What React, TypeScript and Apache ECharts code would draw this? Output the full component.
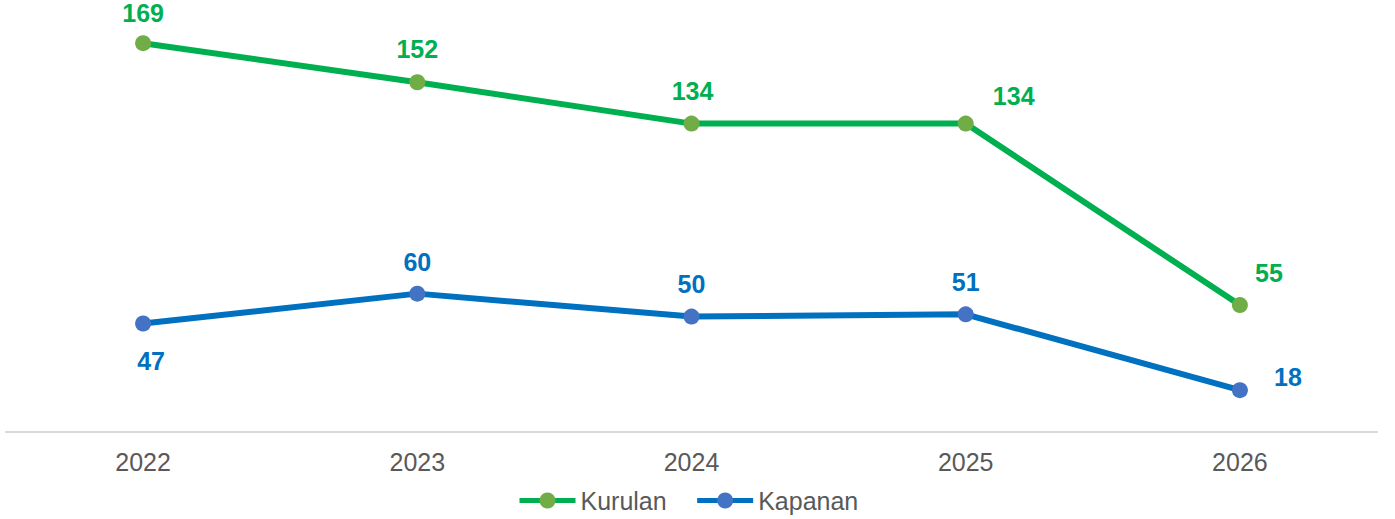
import React, { useEffect, useRef } from "react";
import * as echarts from "echarts";

const categories = ["2022", "2023", "2024", "2025", "2026"];
const kurulan = [169, 152, 134, 134, 55];
const kapanan = [47, 60, 50, 51, 18];
// label offsets (dx, dy) from the point centre
const kurulanOffsets = [[0, -30], [0, -33], [1, -33], [48, -28], [29, -32]];
const kapananOffsets = [[8, 37], [0, -32], [0, -33], [0, -32], [48, -13]];

const FONT = "'Liberation Sans', Arial, sans-serif";

export default function App() {
  const ref = useRef<HTMLDivElement>(null);
  useEffect(() => {
    if (!ref.current) return;
    const chart = echarts.init(ref.current, null, { renderer: "svg" });
    const mk = (vals: number[], offs: number[][]) =>
      vals.map((v, i) => ({
        value: v,
        label: { offset: offs[i] },
      }));
    chart.setOption({
      animation: false,
      textStyle: { fontFamily: FONT },
      grid: { left: 6, right: 18, top: 17.9, bottom: 87.5, containLabel: false },
      legend: {
        left: 512,
        top: 483,
        padding: 5,
        itemWidth: 56,
        itemHeight: 20,
        itemGap: 28,
        lineStyle: { width: 5 },
        textStyle: { fontSize: 25, color: "#595959", fontFamily: FONT },
        data: ["Kurulan", "Kapanan"],
      },
      xAxis: {
        type: "category",
        data: categories,
        boundaryGap: true,
        axisLine: { show: true, lineStyle: { color: "#D9D9D9", width: 2 } },
        axisTick: { show: false },
        axisLabel: { color: "#595959", fontSize: 25, margin: 18, fontFamily: FONT },
      },
      yAxis: {
        type: "value",
        min: 0,
        max: 180,
        show: false,
        splitLine: { show: false },
      },
      series: [
        {
          name: "Kurulan",
          type: "line",
          data: mk(kurulan, kurulanOffsets),
          symbol: "circle",
          symbolSize: 16,
          lineStyle: { color: "#00B050", width: 6 },
          itemStyle: { color: "#70AD47" },
          label: {
            show: true,
            position: "inside",
            color: "#00B050",
            fontWeight: "bold",
            fontSize: 25,
            fontFamily: FONT,
          },
        },
        {
          name: "Kapanan",
          type: "line",
          data: mk(kapanan, kapananOffsets),
          symbol: "circle",
          symbolSize: 16,
          lineStyle: { color: "#0070C0", width: 6 },
          itemStyle: { color: "#4472C4" },
          label: {
            show: true,
            position: "inside",
            color: "#0070C0",
            fontWeight: "bold",
            fontSize: 25,
            fontFamily: FONT,
          },
        },
      ],
    });
    return () => chart.dispose();
  }, []);
  return (
    <div
      ref={ref}
      style={{ position: "fixed", left: 0, top: 0, width: 1395, height: 519, background: "#fff" }}
    />
  );
}
